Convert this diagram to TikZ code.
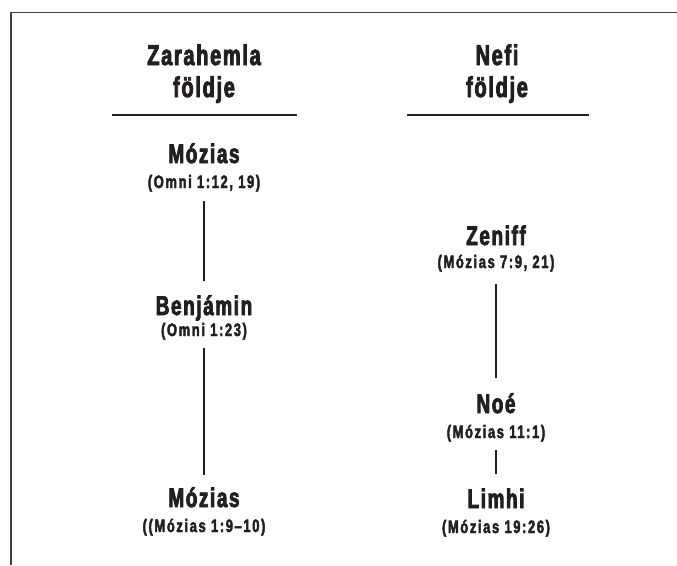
\documentclass[tikz,border=0pt]{standalone}
\usepackage{fontspec}
\newfontfamily\namefont[UprightFont={* Bold},FakeStretch=0.7,LetterSpace=6,FakeBold=3]{Liberation Sans}
\newfontfamily\subfont[UprightFont={* Bold},FakeStretch=0.72,LetterSpace=9,FakeBold=2.5]{Liberation Sans}
\definecolor{ink}{HTML}{231F20}
\definecolor{framegray}{HTML}{404040}
\begin{document}
\begin{tikzpicture}[x=1pt,y=-1pt,
  headtext/.style={font=\namefont\fontsize{28.5}{31}\selectfont, text=ink, inner sep=0pt, anchor=base},
  nametext/.style={font=\namefont\fontsize{27}{30}\selectfont, text=ink, inner sep=0pt, anchor=base},
  subtext/.style={font=\subfont\fontsize{18}{20}\selectfont, text=ink, inner sep=0pt, anchor=base},
  link/.style={draw=ink, line width=1.3pt},
  rule/.style={draw=ink, line width=2.6pt},
  framelines/.style={draw=framegray, line width=1.4pt}]
\useasboundingbox (0,0) rectangle (677,565);
% frame
\draw[framelines] (677,12.5) -- (11,12.5) -- (11,565);
% headings
\node[headtext] (zh1) at (204,65) {Zarahemla};
\node[headtext] (zh2) at (204,97) {földje};
\node[headtext] (nh1) at (497,65) {Nefi};
\node[headtext] (nh2) at (497,97) {földje};
\coordinate (zl) at (112,115); \coordinate (zr) at (297,115);
\coordinate (nl) at (407,115); \coordinate (nr) at (589,115);
\draw[rule] (zl) -- (zr);
\draw[rule] (nl) -- (nr);
% left column
\node[nametext] (m1) at (204,163) {Mózias};
\node[subtext] (m1s) at (204,188) {(Omni 1:12, 19)};
\node[nametext] (b) at (204,315) {Benjámin};
\node[subtext] (bs) at (204,336) {(Omni 1:23)};
\node[nametext] (m2) at (204,507) {Mózias};
\node[subtext] (m2s) at (204,532) {((Mózias 1:9–10)};
% right column
\node[nametext] (z) at (496,245) {Zeniff};
\node[subtext] (zs) at (496,268) {(Mózias 7:9, 21)};
\node[nametext] (n) at (496,413) {Noé};
\node[subtext] (ns) at (496,438) {(Mózias 11:1)};
\node[nametext] (l) at (496,508) {Limhi};
\node[subtext] (ls) at (496,533) {(Mózias 19:26)};
% connectors
\draw[link, shorten <=9pt, shorten >=14pt] (m1s.south) -- (b.north);
\draw[link, shorten <=8pt, shorten >=12pt] (bs.south) -- (m2.north);
\draw[link, shorten <=12pt, shorten >=15pt] (zs.south) -- (n.north);
\draw[link, shorten <=8pt, shorten >=14pt] (ns.south) -- (l.north);
\end{tikzpicture}
\end{document}
